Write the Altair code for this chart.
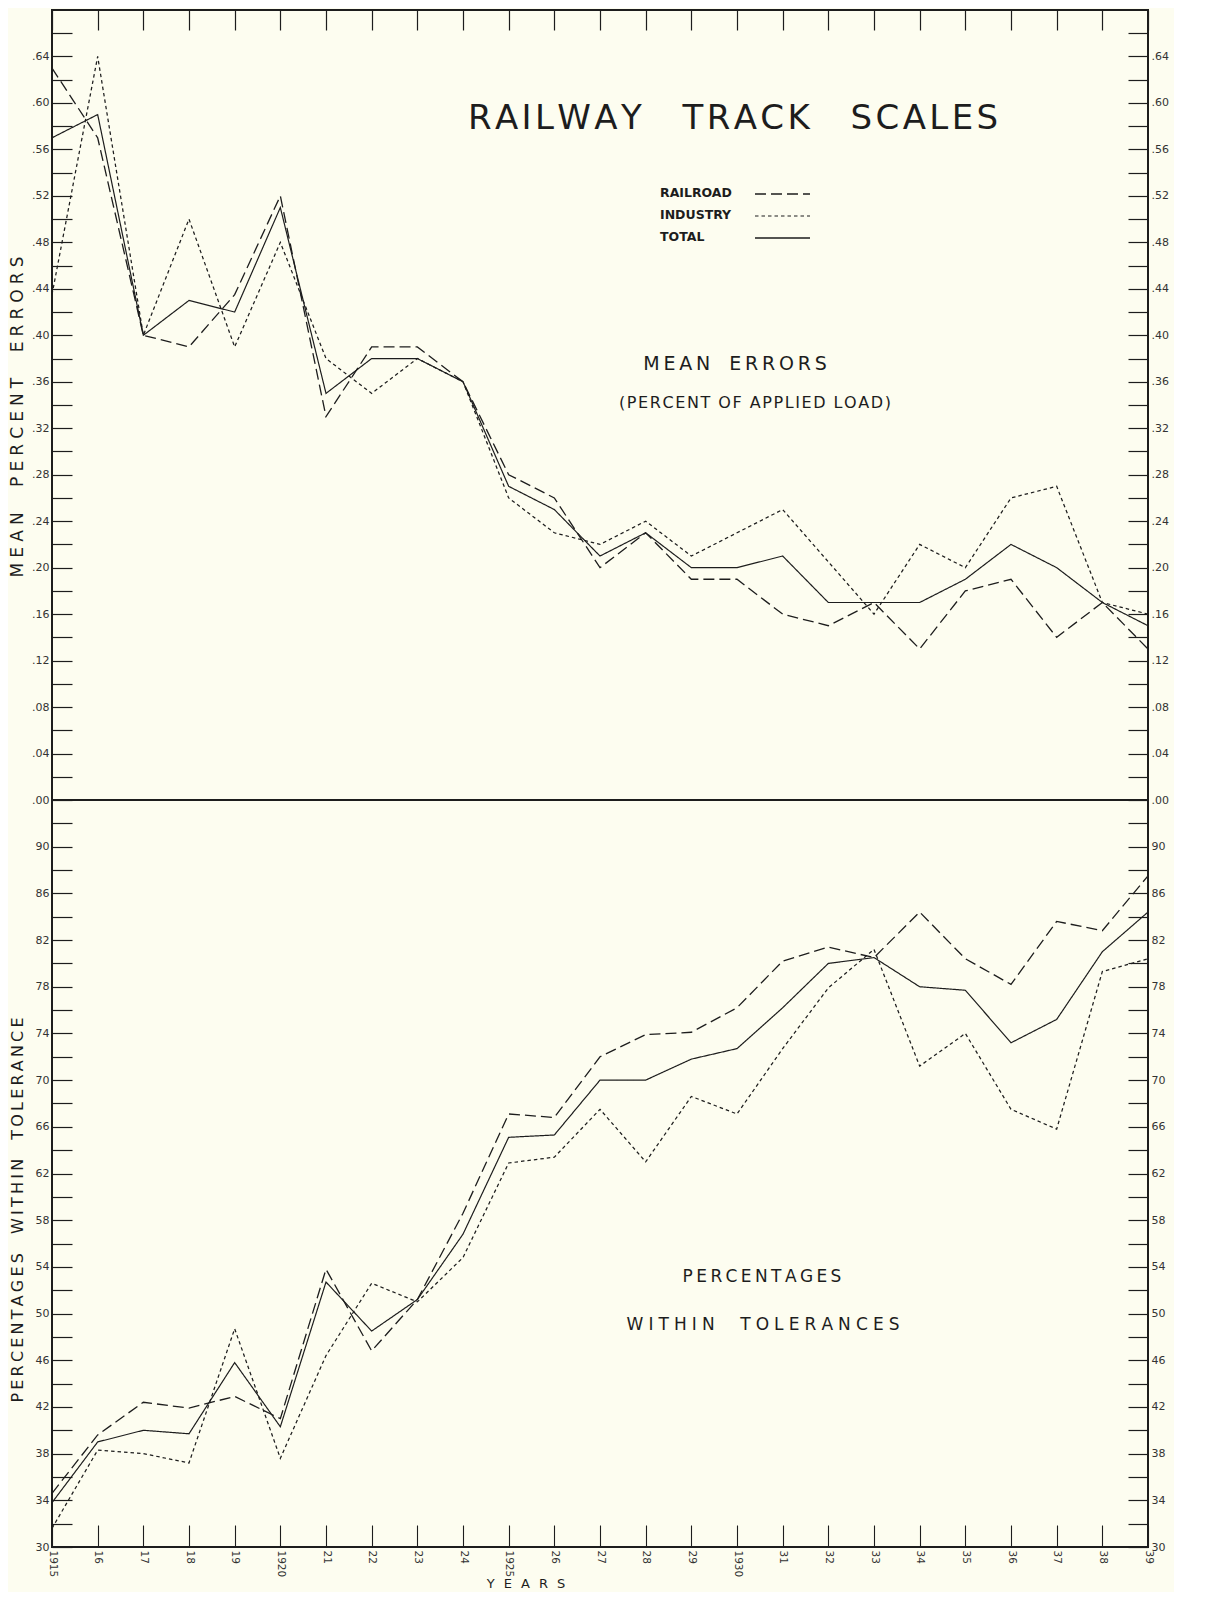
import altair as alt
import pandas as pd

# ---------------- data ----------------
years = list(range(1915, 1940))
year_labels = ["1915", "16", "17", "18", "19", "1920", "21", "22", "23", "24",
               "1925", "26", "27", "28", "29", "1930", "31", "32", "33", "34",
               "35", "36", "37", "38", "39"]
series = ["RAILROAD", "INDUSTRY", "TOTAL"]

mean_railroad = [0.63, 0.57, 0.40, 0.39, 0.435, 0.52, 0.33, 0.39, 0.39, 0.36,
                 0.28, 0.26, 0.20, 0.23, 0.19, 0.19, 0.16, 0.15, 0.17, 0.13,
                 0.18, 0.19, 0.14, 0.17, 0.13]
mean_industry = [0.435, 0.64, 0.40, 0.50, 0.39, 0.48, 0.38, 0.35, 0.38, 0.36,
                 0.26, 0.23, 0.22, 0.24, 0.21, 0.23, 0.25, 0.205, 0.16, 0.22,
                 0.20, 0.26, 0.27, 0.17, 0.16]
mean_total = [0.57, 0.59, 0.40, 0.43, 0.42, 0.51, 0.35, 0.38, 0.38, 0.36,
              0.27, 0.25, 0.21, 0.23, 0.20, 0.20, 0.21, 0.17, 0.17, 0.17,
              0.19, 0.22, 0.20, 0.17, 0.15]

pct_railroad = [34.6, 39.6, 42.4, 41.9, 42.9, 41.0, 53.8, 46.8, 51.2, 58.6,
                67.1, 66.8, 72.0, 73.9, 74.1, 76.2, 80.2, 81.4, 80.5, 84.4,
                80.4, 78.2, 83.6, 82.8, 87.5]
pct_industry = [31.6, 38.3, 38.0, 37.2, 48.7, 37.6, 46.4, 52.6, 51.0, 54.8,
                62.9, 63.4, 67.5, 63.0, 68.6, 67.1, 72.7, 77.9, 81.2, 71.2,
                74.0, 67.5, 65.8, 79.3, 80.4]
pct_total = [33.8, 39.0, 40.0, 39.7, 45.8, 40.3, 52.7, 48.5, 51.2, 56.8,
             65.1, 65.3, 70.0, 70.0, 71.8, 72.7, 76.2, 80.0, 80.5, 78.0,
             77.7, 73.2, 75.2, 81.0, 84.4]

mean_ticks = [round(i * 0.02, 2) for i in range(34)]      # .00 .. .66
pct_ticks = list(range(30, 94, 2))                          # 30 .. 92


def long_table(rr, ind, tot):
    rows = []
    for name, vals in zip(series, [rr, ind, tot]):
        for yr, v in zip(years, vals):
            rows.append({"year": yr, "series": name, "value": v})
    return pd.DataFrame(rows)


mean_df = long_table(mean_railroad, mean_industry, mean_total)
pct_df = long_table(pct_railroad, pct_industry, pct_total)

# ---------------- style ----------------
W, H1, H2 = 1096, 790, 747
INK = "#1d1d1d"
BG = "#fdfdf0"
FONT = "DejaVu Sans"
HAIR, THIN, EN, EM = "\u200a", "\u2009", "\u2002", "\u2003"


def spaced(text, gap=THIN, word=EM):
    return word.join(gap.join(list(w)) for w in text.split(" "))


x_scale = alt.Scale(domain=[years[0], years[-1]], nice=False, zero=False)
dash_list = [[11, 5], [3.5, 3], [1, 0]]
width_list = [1.3, 1.2, 1.5]
dash_scale = alt.Scale(domain=series, range=dash_list)
sw_scale = alt.Scale(domain=series, range=width_list)

year_expr = "[" + ",".join("'%s'" % s for s in year_labels) + "][datum.value - %d]" % years[0]

top_x_axis = alt.Axis(orient="top", values=years, labels=False, tickSize=20, offset=-20,
                      domain=False, grid=False, title=None, tickColor=INK, tickWidth=1.2)
bottom_x_axis = alt.Axis(orient="bottom", values=years, labelExpr=year_expr, labelAngle=90,
                         labelFontSize=10.5, labelColor="#333", labelFont=FONT, labelPadding=3,
                         tickSize=22, offset=-22, domain=False, grid=False, title=None,
                         labelOverlap=False, labelFlush=False, tickColor=INK, tickWidth=1.1)

mean_expr = ("(round(datum.value*100) % 4 == 0 && datum.value < 0.66) ? "
             "replace(format(datum.value, '.2f'), '0.', '.') : ''")
pct_expr = "(datum.value % 4 == 2 && datum.value < 92) ? format(datum.value, 'd') : ''"


def y_axis(orient, values, expr):
    return alt.Axis(orient=orient, values=values, labelExpr=expr, tickSize=20, offset=-20,
                    domain=False, grid=False, title=None, labelOverlap=False, labelFlush=False,
                    labelPadding=3, labelFontSize=11, labelColor="#333", labelFont=FONT,
                    tickColor=INK, tickWidth=1.2)


def lines(df, names, x_axis, y_scale, y_ax):
    return alt.Chart(df).transform_filter(
        alt.FieldOneOfPredicate(field="series", oneOf=names)
    ).mark_line(color=INK, strokeJoin="miter").encode(
        x=alt.X("year:Q", scale=x_scale, axis=x_axis),
        y=alt.Y("value:Q", scale=y_scale, axis=y_ax),
        strokeDash=alt.StrokeDash("series:N", scale=dash_scale, legend=None),
        strokeWidth=alt.StrokeWidth("series:N", scale=sw_scale, legend=None),
    )


DUMMY = alt.Data(values=[{"k": 0}])


def label(text, x, y, size, angle=0, weight="normal", align="center"):
    return alt.Chart(DUMMY).mark_text(
        text=text, fontSize=size, font=FONT, color=INK, angle=angle,
        align=align, baseline="middle", fontWeight=weight
    ).encode(x=alt.value(x), y=alt.value(y))


def key_line(dash, width, y):
    return alt.Chart(DUMMY).mark_rule(color=INK, strokeDash=dash, strokeWidth=width).encode(
        x=alt.value(703), x2=alt.value(758), y=alt.value(y))


# ---------------- top panel ----------------
mean_scale = alt.Scale(domain=[0, 0.68], nice=False, zero=True)
legend_rows = [183, 205, 227]

top_layers = [
    lines(mean_df, series[:2], top_x_axis, mean_scale, y_axis("left", mean_ticks, mean_expr)),
    lines(mean_df, series[2:], top_x_axis, mean_scale, y_axis("right", mean_ticks, mean_expr)),
    label(spaced("RAILWAY TRACK SCALES", HAIR, EM + THIN), 681, 109, 34),
    label(spaced("MEAN ERRORS", THIN, EM), 683, 354, 19),
    label(spaced("(PERCENT OF APPLIED LOAD)", HAIR, EN), 703, 393, 16),
    label(spaced("MEAN PERCENT ERRORS", THIN + HAIR, EM + EN), -34, H1 / 2 + 12, 17, angle=270),
]
for name, yy, d, w in zip(series, legend_rows, dash_list, width_list):
    top_layers.append(label(name, 608, yy, 12.5, weight="bold", align="left"))
    top_layers.append(key_line(d, w, yy + 1))

top = alt.layer(*top_layers).resolve_scale(y="independent").properties(width=W, height=H1)

# ---------------- bottom panel ----------------
pct_scale = alt.Scale(domain=[30, 94], nice=False, zero=False)
bottom_layers = [
    lines(pct_df, series[:2], bottom_x_axis, pct_scale, y_axis("left", pct_ticks, pct_expr)),
    lines(pct_df, series[2:], bottom_x_axis, pct_scale, y_axis("right", pct_ticks, pct_expr)),
    label(spaced("PERCENTAGES", THIN, EM), 710, 477, 17),
    label(spaced("WITHIN TOLERANCES", THIN + HAIR, EM + EN), 711, 525, 17),
    label(spaced("PERCENTAGES WITHIN TOLERANCE", THIN, EM + THIN), -34, 410, 16, angle=270),
    label(spaced("YEARS", EN + THIN, EM), 474, H2 + 37, 13),
]
bottom = alt.layer(*bottom_layers).resolve_scale(y="independent").properties(width=W, height=H2)

chart = alt.vconcat(top, bottom, spacing=0, bounds="flush").properties(
    background=BG,
    padding={"left": 0, "top": 0, "right": 4, "bottom": 0},
).configure_view(stroke=INK, strokeWidth=2)

chart.save("out.html", embed_options={"renderer": "svg", "actions": False})
